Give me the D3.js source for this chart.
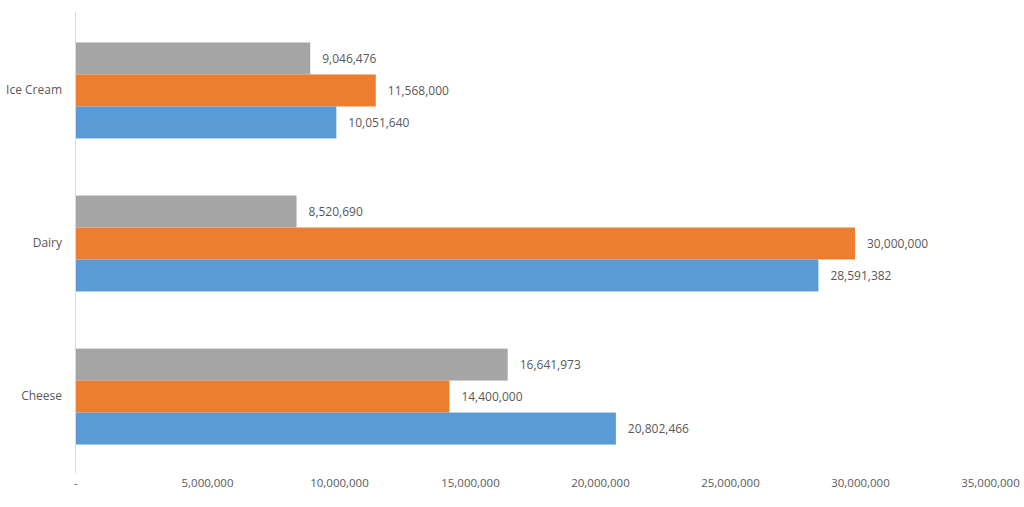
<!DOCTYPE html>
<html>
<head>
<meta charset="utf-8">
<style>
  body { margin: 0; background: #fff; }
  .chart text { font-family: "Open Sans", "Noto Sans", sans-serif; fill: #595959; }
</style>
</head>
<body>
<div class="chart"></div>
<script src="https://d3js.org/d3.v7.min.js"></script>
<script>
  // data
  const categories = ["Ice Cream", "Dairy", "Cheese"];
  const seriesNames = ["gray", "orange", "blue"];   // order top to bottom inside each group
  const grayValues   = [9046476, 8520690, 16641973];
  const orangeValues = [11568000, 30000000, 14400000];
  const blueValues   = [10051640, 28591382, 20802466];
  const xTicks = [0, 5000000, 10000000, 15000000, 20000000, 25000000, 30000000, 35000000];
  const colors = ["#A5A5A5", "#ED7D31", "#5B9BD5"];

  const seriesValues = [grayValues, orangeValues, blueValues];

  const width = 1024,
        height = 507,
        margin = {top: 14, right: 39, bottom: 34, left: 75};

  const svg = d3.select(".chart")
                .append("svg")
                .attr("width", width)
                .attr("height", height);

  // x scale: 0 .. 35M
  const xScale = d3.scaleLinear()
                   .domain([0, 35000000])
                   .range([margin.left, width - margin.right]);

  // category bands
  const yScale = d3.scaleBand()
                   .domain(categories)
                   .range([margin.top, height - margin.bottom])
                   .paddingInner(0.373)
                   .paddingOuter(0.186);

  // series inside each band
  const ySub = d3.scaleBand()
                 .domain(seriesNames)
                 .range([0, yScale.bandwidth()]);

  const rows = [];
  categories.forEach((c, i) => {
    seriesNames.forEach((s, j) => {
      rows.push({cat: c, series: s, value: seriesValues[j][i], color: colors[j]});
    });
  });

  // bars
  svg.selectAll("rect.bar")
     .data(rows)
     .join("rect")
     .attr("class", "bar")
     .attr("x", xScale(0) + 1)
     .attr("y", d => yScale(d.cat) + ySub(d.series))
     .attr("width", d => xScale(d.value) - xScale(0) - 1)
     .attr("height", ySub.bandwidth())
     .attr("fill", d => d.color);

  // value labels
  const fmt = d3.format(",");
  svg.selectAll("text.val")
     .data(rows)
     .join("text")
     .attr("class", "val")
     .attr("x", d => xScale(d.value) + 12)
     .attr("y", d => yScale(d.cat) + ySub(d.series) + ySub.bandwidth() / 2)
     .attr("dy", "0.35em")
     .attr("font-size", 12)
     .text(d => fmt(d.value));

  // y axis line + category labels
  const yAxis = d3.axisLeft(yScale).tickSize(0).tickPadding(13);
  const yAxisGroup = svg.append("g")
                        .attr("transform", `translate(${margin.left},0)`)
                        .call(yAxis);
  yAxisGroup.select(".domain").attr("stroke", "#d9d9d9").attr("d", `M0.5,${margin.top - 2}V${height - margin.bottom}`);
  yAxisGroup.selectAll("text").attr("font-size", 12);

  // x axis labels only (no line)
  const xAxis = d3.axisBottom(xScale)
                  .tickValues(xTicks)
                  .tickSize(0)
                  .tickPadding(0)
                  .tickFormat(d => d === 0 ? "-" : fmt(d));
  const xAxisGroup = svg.append("g")
                        .attr("transform", `translate(0,${height - 24})`)
                        .call(xAxis);
  xAxisGroup.select(".domain").remove();
  xAxisGroup.selectAll("text").attr("font-size", 11.5).attr("dy", "0.35em")
            .attr("dx", (d, i) => Math.min(i * 2, 5));
</script>
</body>
</html>
